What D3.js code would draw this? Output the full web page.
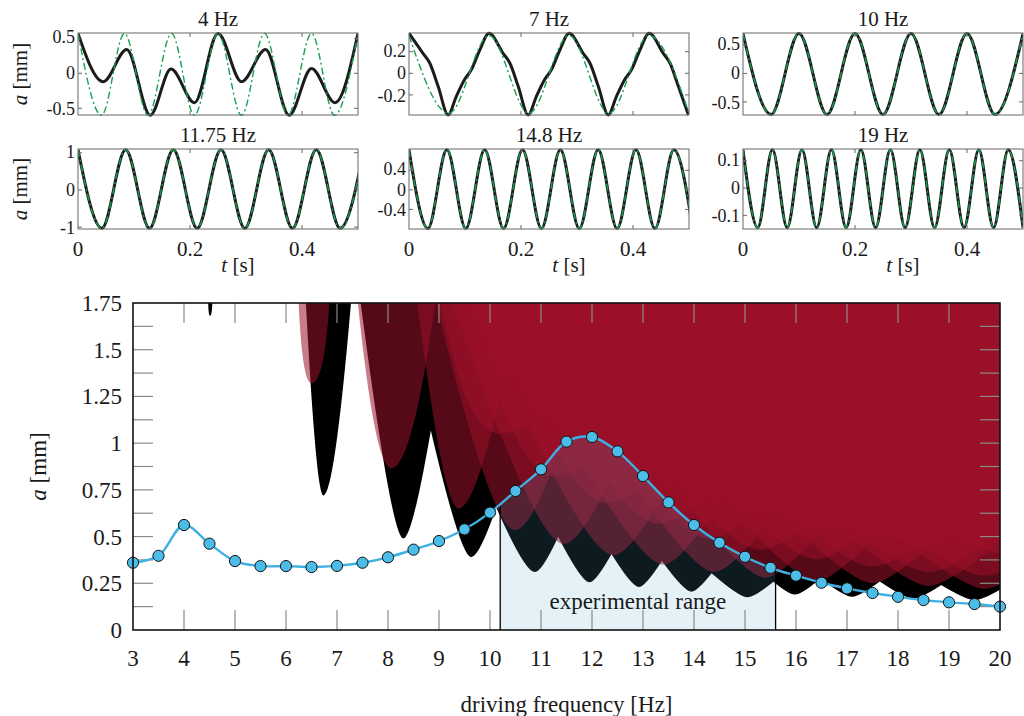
<!DOCTYPE html>
<meta charset="utf-8">
<script src="https://cdn.jsdelivr.net/npm/d3@7"></script>
<style>
  body { margin: 0; background: #fff; }
  text { font-family: "Liberation Serif", "Times New Roman", serif; fill: #1a1a1a; }
</style>
<div id="vis"></div>
<script>

// ---------- main chart data ----------
// measured response amplitude vs driving frequency
var freq = [3, 3.5, 4, 4.5, 5, 5.5, 6, 6.5, 7, 7.5, 8, 8.5, 9, 9.5, 10, 10.5, 11, 11.5, 12,
            12.5, 13, 13.5, 14, 14.5, 15, 15.5, 16, 16.5, 17, 17.5, 18, 18.5, 19, 19.5, 20];
var amp = [0.36, 0.397, 0.562, 0.462, 0.369, 0.342, 0.342, 0.337, 0.343, 0.36, 0.389, 0.43,
           0.476, 0.539, 0.628, 0.744, 0.86, 1.008, 1.033, 0.956, 0.824, 0.683, 0.562, 0.467,
           0.392, 0.333, 0.291, 0.253, 0.223, 0.198, 0.178, 0.16, 0.148, 0.139, 0.125];
var expRange = [10.2, 15.6];

var freqTicks = [3, 4, 5, 6, 7, 8, 9, 10, 11, 12, 13, 14, 15, 16, 17, 18, 19, 20];
var ampTicks = [0, 0.25, 0.5, 0.75, 1, 1.25, 1.5, 1.75];
var ampMinor = [0.125, 0.25, 0.375, 0.5, 0.625, 0.75, 0.875, 1, 1.125, 1.25, 1.375, 1.5, 1.625];

// instability tongues: [f at minimum, a at minimum, left edge f at top, right edge f at top]
var blackTongues = [
  [4.51, 1.68, 4.47, 4.56],
  [6.73, 0.72, 6.38, 7.29],
  [8.30, 0.49, 7.44, 9.26],
  [9.63, 0.39, 8.25, 11.3],
  [10.88, 0.31, 8.5, 13.1],
  [11.95, 0.255, 9.23, 14.67],
  [12.92, 0.23, 9.75, 16.09],
  [13.95, 0.205, 10.15, 17.75],
  [15.05, 0.175, 9.1, 21.0],
  [15.98, 0.19, 10.5, 21.5],
  [17.1, 0.178, 10.7, 23.5],
  [18.3, 0.168, 11.0, 25.6],
  [19.5, 0.16, 11.3, 27.7],
  [20.7, 0.16, 11.6, 29.8]
];
var redTongues = [
  [6.50, 1.32, 6.24, 6.86],
  [8.06, 0.865, 7.39, 8.95],
  [9.38, 0.65, 8.55, 10.6],
  [10.49, 0.535, 8.9, 12.3],
  [11.45, 0.46, 9.2, 13.8],
  [12.42, 0.40, 9.6, 15.3],
  [13.4, 0.35, 10.0, 16.8],
  [14.4, 0.31, 10.4, 18.4],
  [15.4, 0.28, 10.8, 20.0],
  [16.4, 0.26, 11.2, 21.6],
  [17.5, 0.25, 11.6, 23.4],
  [18.6, 0.235, 12.0, 25.2],
  [19.7, 0.22, 12.4, 27.0],
  [10.2, 1.05, 9.0, 12.0],
  [11.3, 0.82, 9.5, 13.8],
  [12.3, 0.68, 10.0, 15.2],
  [13.3, 0.57, 10.4, 16.7],
  [14.3, 0.49, 10.8, 18.2],
  [15.3, 0.43, 11.2, 19.8],
  [16.4, 0.38, 11.6, 21.5],
  [17.5, 0.34, 12.0, 23.2],
  [18.6, 0.31, 12.4, 25.0],
  [19.7, 0.29, 12.8, 26.8],
  [11.8, 1.3, 10.8, 13.2],
  [12.8, 1.05, 11.2, 14.8],
  [13.8, 0.86, 11.5, 16.4],
  [14.8, 0.72, 11.8, 18.0],
  [15.8, 0.62, 12.1, 19.6],
  [16.9, 0.54, 12.5, 21.3],
  [18.0, 0.48, 12.9, 23.0],
  [19.1, 0.43, 13.3, 24.8],
  [20.2, 0.40, 13.7, 26.6]
];

// ---------- time traces (turning points) ----------
var t4 = [0, 0.045, 0.087, 0.129, 0.166, 0.208, 0.25, 0.292, 0.335, 0.377, 0.417, 0.459, 0.5];
var a4 = [0.57, -0.12, 0.34, -0.60, 0.06, -0.42, 0.57, -0.12, 0.34, -0.60, 0.07, -0.42, 0.57];
var t4fit = [0, 0.042, 0.083, 0.125, 0.167, 0.208, 0.25, 0.292, 0.333, 0.375, 0.417, 0.458, 0.5];
var a4fit = [0.57, -0.6, 0.57, -0.6, 0.57, -0.6, 0.57, -0.6, 0.57, -0.6, 0.57, -0.6, 0.57];

var t7 = [0, 0.025, 0.037, 0.052, 0.070, 0.084, 0.099, 0.111, 0.126,
          0.143, 0.168, 0.180, 0.195, 0.213, 0.227, 0.242, 0.254, 0.269,
          0.286, 0.311, 0.323, 0.338, 0.356, 0.370, 0.385, 0.397, 0.412,
          0.429, 0.454, 0.466, 0.481, 0.499];
var a7 = [0.37, 0.185, 0.095, -0.12, -0.385, -0.22, -0.06, 0.03, 0.21,
          0.37, 0.185, 0.095, -0.12, -0.385, -0.22, -0.06, 0.03, 0.21,
          0.37, 0.185, 0.095, -0.12, -0.385, -0.22, -0.06, 0.03, 0.21,
          0.37, 0.185, 0.095, -0.12, -0.385];
var t7fit = [0, 0.0714, 0.1429, 0.2143, 0.2857, 0.3571, 0.4286, 0.5];
var a7fit = [0.35, -0.37, 0.35, -0.37, 0.35, -0.37, 0.35, -0.37];

var t10 = [0, 0.05, 0.1, 0.15, 0.2, 0.25, 0.3, 0.35, 0.4, 0.45, 0.5];
var a10 = [0.7, -0.72, 0.7, -0.72, 0.7, -0.72, 0.7, -0.72, 0.7, -0.72, 0.7];

var t12 = [0, 0.0426, 0.0851, 0.1277, 0.1702, 0.2128, 0.2553, 0.2979, 0.3404, 0.383, 0.4255, 0.4681, 0.5106];
var a12 = [1.08, -1.03, 1.08, -1.03, 1.08, -1.03, 1.08, -1.03, 1.08, -1.03, 1.08, -1.03, 1.08];

var t15 = [0, 0.0338, 0.0676, 0.1014, 0.1351, 0.1689, 0.2027, 0.2365, 0.2703, 0.3041, 0.3378,
           0.3716, 0.4054, 0.4392, 0.473, 0.5068];
var a15 = [0.82, -0.79, 0.82, -0.79, 0.82, -0.79, 0.82, -0.79, 0.82, -0.79, 0.82, -0.79, 0.82, -0.79, 0.82, -0.79];

var t19 = [0, 0.0263, 0.0526, 0.0789, 0.1053, 0.1316, 0.1579, 0.1842, 0.2105, 0.2368, 0.2632,
           0.2895, 0.3158, 0.3421, 0.3684, 0.3947, 0.4211, 0.4474, 0.4737, 0.5];
var a19 = [0.14, -0.145, 0.14, -0.145, 0.14, -0.145, 0.14, -0.145, 0.14, -0.145,
           0.14, -0.145, 0.14, -0.145, 0.14, -0.145, 0.14, -0.145, 0.14, -0.145];

var timeTicks = [0, 0.2, 0.4];

var svg = d3.select("#vis").append("svg")
    .attr("width", 1024)
    .attr("height", 716);
var defs = svg.append("defs");

// ================= small panels =================
var panels = [
  {title: "4 Hz",     col: 0, row: 0, t: t4,  a: a4,  tf: t4fit, af: a4fit, dom: [-0.596, 0.576], ticks: [-0.5, 0, 0.5]},
  {title: "7 Hz",     col: 1, row: 0, t: t7,  a: a7,  tf: t7fit, af: a7fit, dom: [-0.386, 0.373], ticks: [-0.2, 0, 0.2]},
  {title: "10 Hz",    col: 2, row: 0, t: t10, a: a10, tf: t10,   af: a10,   dom: [-0.73, 0.71],   ticks: [-0.5, 0, 0.5]},
  {title: "11.75 Hz", col: 0, row: 1, t: t12, a: a12, tf: t12,   af: a12,   dom: [-1.05, 1.1],    ticks: [-1, 0, 1]},
  {title: "14.8 Hz",  col: 1, row: 1, t: t15, a: a15, tf: t15,   af: a15,   dom: [-0.8, 0.835],   ticks: [-0.4, 0, 0.4]},
  {title: "19 Hz",    col: 2, row: 1, t: t19, a: a19, tf: t19,   af: a19,   dom: [-0.15, 0.143],  ticks: [-0.1, 0, 0.1]}
];
var colX = [78, 409, 743], pw = 280;
var rowY = [[33, 115], [149, 229]];

panels.forEach(function(p, i) {
  var x0 = colX[p.col], top = rowY[p.row][0], bot = rowY[p.row][1];
  var xs = d3.scaleLinear().domain([0, 0.5]).range([x0, x0 + pw]);
  var ys = d3.scaleLinear().domain(p.dom).range([bot, top]);
  var g = svg.append("g");

  defs.append("clipPath").attr("id", "pc" + i)
    .append("rect").attr("x", x0).attr("y", top - 2).attr("width", pw).attr("height", bot - top + 4);

  var line = d3.line()
      .x(function(d) { return xs(d[0]); })
      .y(function(d) { return ys(d[1]); })
      .curve(d3.curveMonotoneX);

  var inner = g.append("g").attr("clip-path", "url(#pc" + i + ")");
  inner.append("path")
      .attr("d", line(d3.zip(p.t, p.a)))
      .attr("fill", "none").attr("stroke", "#1c1c1c").attr("stroke-width", 3);
  inner.append("path")
      .attr("d", line(d3.zip(p.tf, p.af)))
      .attr("fill", "none").attr("stroke", "#16a050").attr("stroke-width", 1.4)
      .attr("stroke-dasharray", "7,3,2,3");

  // frame and ticks
  g.append("rect").attr("x", x0).attr("y", top).attr("width", pw).attr("height", bot - top)
      .attr("fill", "none").attr("stroke", "#666").attr("stroke-width", 1);
  timeTicks.slice(1).forEach(function(t) {
    g.append("line").attr("x1", xs(t)).attr("x2", xs(t)).attr("y1", top).attr("y2", top + 4).attr("stroke", "#666");
    g.append("line").attr("x1", xs(t)).attr("x2", xs(t)).attr("y1", bot).attr("y2", bot - 4).attr("stroke", "#666");
  });
  p.ticks.forEach(function(v) {
    g.append("line").attr("x1", x0).attr("x2", x0 + 4).attr("y1", ys(v)).attr("y2", ys(v)).attr("stroke", "#666");
    g.append("line").attr("x1", x0 + pw).attr("x2", x0 + pw - 4).attr("y1", ys(v)).attr("y2", ys(v)).attr("stroke", "#666");
    // outer labels nudged a pixel away from the centre one so they do not collide
    var nudge = v > 0 ? -1 : (v < 0 ? 1 : 0);
    g.append("text").attr("x", x0 - 3).attr("y", ys(v) + 6 + nudge)
        .attr("text-anchor", "end").style("font-size", "18px").text(String(v));
  });

  g.append("text").attr("x", x0 + pw / 2).attr("y", top - 7)
      .attr("text-anchor", "middle").style("font-size", "21px").text(p.title);

  if (p.row === 1) {
    timeTicks.forEach(function(t) {
      g.append("text").attr("x", xs(t)).attr("y", bot + 27)
          .attr("text-anchor", "middle").style("font-size", "21px").text(String(t));
    });
    var tl = g.append("text").attr("x", x0 + pw / 2 + 20).attr("y", bot + 43)
        .attr("text-anchor", "middle").style("font-size", "21px");
    tl.append("tspan").style("font-style", "italic").text("t");
    tl.append("tspan").text(" [s]");
  }
  if (p.col === 0) {
    var al = g.append("text")
        .attr("transform", "translate(27," + ((top + bot) / 2) + ") rotate(-90)")
        .attr("text-anchor", "middle").style("font-size", "21px");
    al.append("tspan").style("font-style", "italic").text("a");
    al.append("tspan").text(" [mm]");
  }
});

// ================= main chart =================
var x = d3.scaleLinear().domain([3, 20]).range([133, 1000]);
var y = d3.scaleLinear().domain([0, 1.75]).range([630, 303]);

defs.append("clipPath").attr("id", "plotClip")
  .append("rect").attr("x", x(3)).attr("y", y(1.75)).attr("width", x(20) - x(3)).attr("height", y(0) - y(1.75));

// tongue outline: edges aimed at the point below the minimum, rounded into the tip
var TOP = 1.8;
function tongue(d) {
  var f0 = d[0], a0 = d[1], fl = d[2], fr = d[3], k = (TOP - a0) / TOP;
  var p = d3.path();
  p.moveTo(x(fl), y(TOP));
  p.quadraticCurveTo(x(fl + (f0 - fl) * k), y(a0), x(f0), y(a0));
  p.quadraticCurveTo(x(fr - (fr - f0) * k), y(a0), x(fr), y(TOP));
  p.closePath();
  return p.toString();
}

var plot = svg.append("g").attr("clip-path", "url(#plotClip)");
plot.selectAll("path.blk").data(blackTongues).join("path")
    .attr("class", "blk")
    .attr("d", tongue)
    .attr("fill", "#000");
plot.selectAll("path.red").data(redTongues).join("path")
    .attr("class", "red")
    .attr("d", tongue)
    .attr("fill", "#9c112a")
    .attr("fill-opacity", 0.55);

// experimental range, shaded under the measured curve
var pts = d3.zip(freq, amp);
var curve = d3.line()
    .x(function(d) { return x(d[0]); })
    .y(function(d) { return y(d[1]); })
    .curve(d3.curveCatmullRom);
var under = d3.area()
    .x(function(d) { return x(d[0]); })
    .y0(y(0))
    .y1(function(d) { return y(d[1]); })
    .curve(d3.curveCatmullRom);

defs.append("clipPath").attr("id", "underCurve").append("path").attr("d", under(pts));
var expG = svg.append("g").attr("clip-path", "url(#underCurve)");
expG.append("rect")
    .attr("x", x(expRange[0])).attr("width", x(expRange[1]) - x(expRange[0]))
    .attr("y", y(1.75)).attr("height", y(0) - y(1.75))
    .attr("fill", "#54aed5").attr("fill-opacity", 0.155);
expG.selectAll("line").data(expRange).join("line")
    .attr("x1", function(d) { return x(d); }).attr("x2", function(d) { return x(d); })
    .attr("y1", y(0)).attr("y2", y(1.75))
    .attr("stroke", "#000").attr("stroke-width", 1.3);

svg.append("text")
    .attr("x", x((expRange[0] + expRange[1]) / 2)).attr("y", 609)
    .attr("text-anchor", "middle").style("font-size", "23px")
    .text("experimental range");

// ticks (inside the box)
var axG = svg.append("g").attr("stroke", "#8a8a8a").attr("stroke-width", 1.2);
freqTicks.slice(1, -1).forEach(function(f) {
  axG.append("line").attr("x1", x(f)).attr("x2", x(f)).attr("y1", y(0)).attr("y2", y(0) - 20);
  axG.append("line").attr("x1", x(f)).attr("x2", x(f)).attr("y1", y(1.75)).attr("y2", y(1.75) + 20);
});
ampMinor.forEach(function(v) {
  axG.append("line").attr("x1", x(3)).attr("x2", x(3) + 20).attr("y1", y(v)).attr("y2", y(v));
  axG.append("line").attr("x1", x(20)).attr("x2", x(20) - 20).attr("y1", y(v)).attr("y2", y(v));
});

// measured curve
svg.append("path")
    .attr("d", curve(pts))
    .attr("fill", "none").attr("stroke", "#3fb0e2").attr("stroke-width", 2.4);
svg.selectAll("circle.m").data(pts).join("circle")
    .attr("class", "m")
    .attr("cx", function(d) { return x(d[0]); })
    .attr("cy", function(d) { return y(d[1]); })
    .attr("r", 5.6)
    .attr("fill", "#4cbde9").attr("stroke", "#111").attr("stroke-width", 1);

// box
svg.append("rect")
    .attr("x", x(3)).attr("y", y(1.75)).attr("width", x(20) - x(3)).attr("height", y(0) - y(1.75))
    .attr("fill", "none").attr("stroke", "#111").attr("stroke-width", 1.6);

// tick labels
svg.selectAll("text.xt").data(freqTicks).join("text")
    .attr("class", "xt")
    .attr("x", function(d) { return x(d); }).attr("y", 666)
    .attr("text-anchor", "middle").style("font-size", "23px")
    .text(function(d) { return String(d); });
svg.selectAll("text.yt").data(ampTicks).join("text")
    .attr("class", "yt")
    .attr("x", 122).attr("y", function(d) { return y(d) + 8; })
    .attr("text-anchor", "end").style("font-size", "23px")
    .text(function(d) { return String(d); });

svg.append("text")
    .attr("x", (x(3) + x(20)) / 2).attr("y", 712)
    .attr("text-anchor", "middle").style("font-size", "23px")
    .text("driving frequency [Hz]");
var ml = svg.append("text")
    .attr("transform", "translate(46," + ((y(0) + y(1.75)) / 2) + ") rotate(-90)")
    .attr("text-anchor", "middle").style("font-size", "23px");
ml.append("tspan").style("font-style", "italic").text("a");
ml.append("tspan").text(" [mm]");

</script>
